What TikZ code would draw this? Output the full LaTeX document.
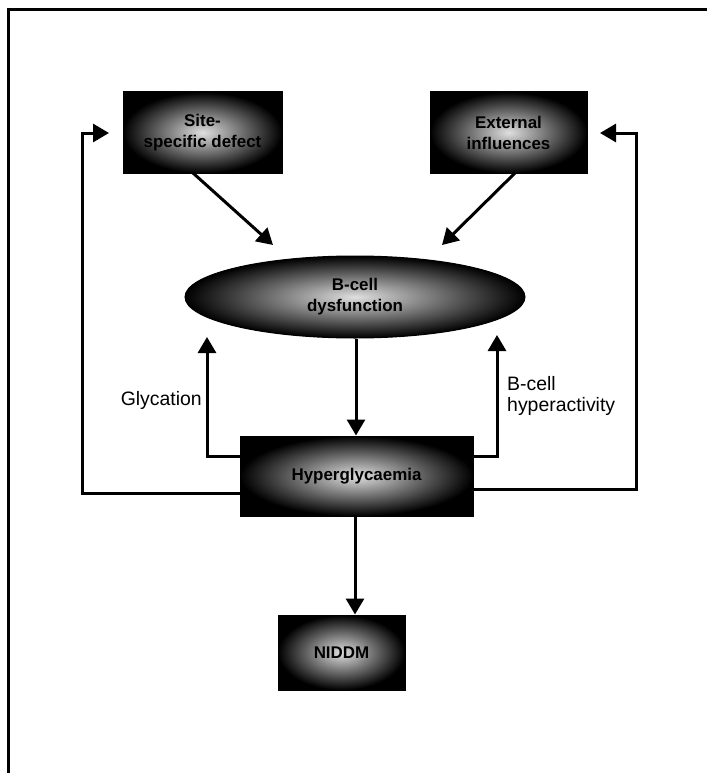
\documentclass[tikz,border=0pt]{standalone}
\usepackage{fontspec}
\setmainfont{Liberation Sans}
\usetikzlibrary{arrows.meta,shapes.geometric}
\begin{document}
\begin{tikzpicture}[x=1bp,y=-1bp,
  shade box/.style={draw=black, line width=1bp, inner color=gray!25, outer color=black,
    align=center, inner sep=0pt, font=\bfseries\fontsize{17}{21}\selectfont},
  arr/.style={line width=3bp, -{Triangle[length=16bp,width=18bp]}},
  lbl/.style={font=\fontsize{19.5}{22}\selectfont, inner sep=0pt}]
\useasboundingbox (0,0) rectangle (707,773);
\draw[line width=3bp] (8,773) -- (8,10) -- (707,10);

\node[shade box, minimum width=159bp, minimum height=81bp] (site) at (202.5,132.5) {Site-\\specific defect};
\node[shade box, minimum width=157bp, minimum height=81bp] (ext) at (508.5,132.5) {External\\influences};
\node[shade box, ellipse, minimum width=340bp, minimum height=82bp] (bcell) at (355,297) {B-cell\\dysfunction};
\node[shade box, minimum width=233bp, minimum height=80bp] (hyp) at (356.5,476) {Hyperglycaemia};
\node[shade box, minimum width=127bp, minimum height=75bp] (niddm) at (341.5,652.5) {NIDDM};

\node[lbl, anchor=east] (glyc) at (202,400) {Glycation};
\node[lbl, anchor=west, align=left] (hyper) at (507,396) {B-cell\\hyperactivity};

% tips
\coordinate (t1) at (273,245);
\coordinate (t2) at (442,245);
\coordinate (tg) at (207,337);
\coordinate (tb) at (497,335);
\coordinate (tl) at (109,133);
\coordinate (tr) at (600,133);

\draw[arr] (193,173) -- (t1);
\draw[arr] (515,173) -- (t2);
\draw[arr] (bcell.south -| 356,0) -- (hyp.north -| 356,0);
\draw[arr] (hyp.south -| 355,0) -- (niddm.north -| 355,0);
\draw[arr] (hyp.west |- 0,456) -| (tg);
\draw[arr] (hyp.east |- 0,456) -| (tb);
\draw[arr] (hyp.west |- 0,493) -| (82,133) -- (tl);
\draw[arr] (hyp.east |- 0,489) -| (636,133) -- (tr);
\end{tikzpicture}
\end{document}
